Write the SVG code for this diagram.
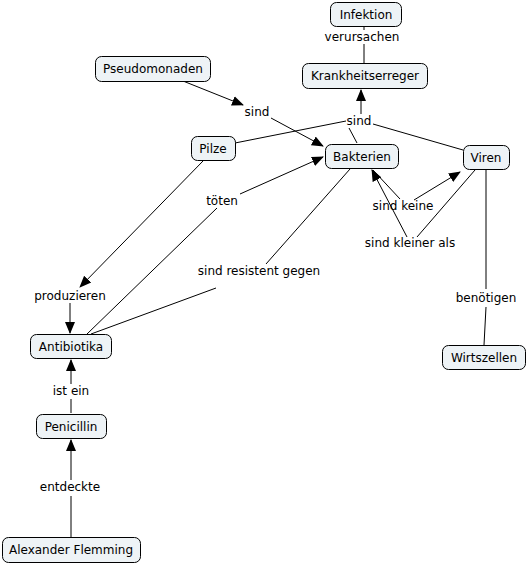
<svg xmlns="http://www.w3.org/2000/svg" width="527" height="566" viewBox="0 0 527 566">
<style>
.n rect{fill:#eef3f6;stroke:#000;stroke-width:1}
text{font-family:"DejaVu Sans","Verdana",sans-serif;font-size:12px;fill:#000;text-anchor:middle}
.c line{stroke:#000;stroke-width:1}
.a{marker-end:url(#ah)}
</style>
<defs>
<marker id="ah" markerUnits="userSpaceOnUse" markerWidth="12" markerHeight="12" viewBox="0 0 12 12" refX="11" refY="6" orient="auto">
<path d="M0,1 L12,6 L0,11 Z" fill="#000"/>
</marker>
</defs>
<rect width="527" height="566" fill="#fff"/>
<g class="c">
<line x1="364" y1="26" x2="364" y2="30"/>
<line x1="364" y1="44" x2="364" y2="63"/>
<line class="a" x1="183" y1="81" x2="243" y2="105"/>
<line class="a" x1="271" y1="118" x2="323" y2="146"/>
<line class="a" x1="361" y1="114" x2="361" y2="90"/>
<line x1="235" y1="143" x2="346" y2="121"/>
<line x1="463" y1="150" x2="373" y2="124"/>
<line x1="357" y1="143" x2="349" y2="128"/>
<line class="a" x1="203" y1="161" x2="80" y2="287"/>
<line class="a" x1="70" y1="303" x2="70" y2="333"/>
<line x1="87" y1="334" x2="217" y2="208"/>
<line class="a" x1="240" y1="194" x2="323" y2="157"/>
<line x1="350" y1="169" x2="266" y2="264"/>
<line x1="216" y1="288" x2="91" y2="334"/>
<line x1="71" y1="413" x2="71" y2="399"/>
<line class="a" x1="71" y1="384" x2="71" y2="360"/>
<line x1="71" y1="537" x2="71" y2="496"/>
<line class="a" x1="71" y1="480" x2="71" y2="440"/>
<line x1="373" y1="170" x2="400" y2="199"/>
<line class="a" x1="414" y1="200" x2="460" y2="172"/>
<line x1="475" y1="170" x2="417" y2="237"/>
<line class="a" x1="407" y1="237" x2="372" y2="170"/>
<line x1="486" y1="170" x2="486" y2="289"/>
<line x1="486" y1="307" x2="484" y2="345"/>
</g>
<g id="labels">
<text x="362" y="41">verursachen</text>
<text x="257" y="116">sind</text>
<text x="359" y="125">sind</text>
<text x="222" y="205">töten</text>
<text x="259" y="275">sind resistent gegen</text>
<text x="70" y="300">produzieren</text>
<text x="71" y="395">ist ein</text>
<text x="70" y="491">entdeckte</text>
<text x="403" y="210">sind keine</text>
<text x="410" y="247">sind kleiner als</text>
<text x="486" y="302">benötigen</text>
</g>
<g id="infektion" class="n"><rect x="330.5" y="2.5" width="71" height="24" rx="6"/><text x="366" y="19">Infektion</text></g>
<g id="krankheitserreger" class="n"><rect x="302.5" y="63.5" width="125" height="25" rx="6"/><text x="365" y="80">Krankheitserreger</text></g>
<g id="pseudomonaden" class="n"><rect x="95.5" y="56.5" width="115" height="25" rx="6"/><text x="153" y="73">Pseudomonaden</text></g>
<g id="pilze" class="n"><rect x="191.5" y="136.5" width="44" height="24" rx="6"/><text x="213" y="153">Pilze</text></g>
<g id="bakterien" class="n"><rect x="325.5" y="144.5" width="73" height="24" rx="6"/><text x="362" y="161">Bakterien</text></g>
<g id="viren" class="n"><rect x="463.5" y="145.5" width="46" height="24" rx="6"/><text x="486" y="162">Viren</text></g>
<g id="antibiotika" class="n"><rect x="30.5" y="334.5" width="81" height="24" rx="6"/><text x="71" y="351">Antibiotika</text></g>
<g id="penicillin" class="n"><rect x="36.5" y="414.5" width="70" height="24" rx="6"/><text x="71" y="431">Penicillin</text></g>
<g id="wirtszellen" class="n"><rect x="442.5" y="345.5" width="83" height="24" rx="6"/><text x="484" y="362">Wirtszellen</text></g>
<g id="flemming" class="n"><rect x="2.5" y="537.5" width="138" height="25" rx="6"/><text x="71" y="554">Alexander Flemming</text></g>
</svg>
